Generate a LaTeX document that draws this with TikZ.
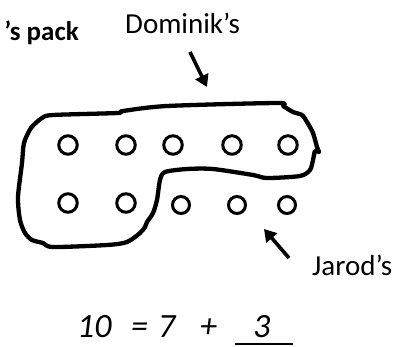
\documentclass[tikz,border=0pt]{standalone}
\usepackage{fontspec}
\setmainfont{Carlito}
\usetikzlibrary{arrows.meta}
\begin{document}
\begin{tikzpicture}[x=1pt,y=-1pt,
dot/.style={circle,draw,line width=3pt,minimum size=18.5pt,inner sep=0pt},
lbl/.style={font=\fontsize{29}{33}\selectfont,inner sep=0pt},
sum/.style={font=\fontsize{34}{38}\selectfont\itshape,inner sep=0pt},
pointer/.style={line width=3.6pt,-{Triangle[length=12pt,width=14pt]}}]
\useasboundingbox (0,0) rectangle (406,346);
\clip (0,0) rectangle (406,346);
% labels
\node[lbl,anchor=base east,font=\fontsize{27}{30}\selectfont\bfseries] (pack) at (79,40) {’s pack};
\node[lbl,anchor=base west] (dom) at (125,33) {Dominik’s};
\node[lbl,anchor=base west] (jar) at (312,275) {Jarod’s};
% counters
\path
(68,145) node[dot](1){}
(126,145) node[dot](2){}
(173,145) node[dot](3){}
(232,145) node[dot](4){}
(288,145) node[dot](5){};
\path
(68,203) node[dot](6){}
(126,203) node[dot](7){}
(181,205) node[dot,minimum size=17pt](8){}
(237,205) node[dot,minimum size=17pt](9){}
(287,205) node[dot,minimum size=17pt](10){};
% loop round Dominik's seven
\draw[line width=4.3pt,line join=round] plot[smooth cycle,tension=0.45] coordinates {
(53,115) (117,113) (123,111) (167,106) (277,103) (283,106) (293,112)
(302,115) (307,122) (313,133) (317,147) (319,152) (315,151) (313,160)
(310,170) (300,176) (267,178) (253,175) (213,169) (187,169) (165,172)
(160,180) (157,200) (153,213) (147,222) (145,227) (140,233) (127,242)
(107,245) (53,247) (43,243) (32,240) (25,233) (20,220) (18,197)
(22,163) (24,143) (31,128) (42,118)};
% arrows
\coordinate (dt) at (190,52);
\coordinate (dh) at (207,87);
\coordinate (jt) at (289,258);
\coordinate (jh) at (264,229);
\path[draw,pointer] (dt)--(dh);
\path[draw,pointer] (jt)--(jh);
% number sentence
\node[sum,anchor=base west] (a) at (77,337) {10};
\node[sum,anchor=base west] (b) at (131,337) {=};
\node[sum,anchor=base west] (c) at (158,337) {7};
\node[sum,anchor=base west] (d) at (200,337) {+};
\node[sum,anchor=base west] (e) at (253,337) {3};
\coordinate (u1) at (235,344);
\coordinate (u2) at (293,344);
\path[draw,line width=2.8pt] (u1)--(u2);
\end{tikzpicture}
\end{document}
